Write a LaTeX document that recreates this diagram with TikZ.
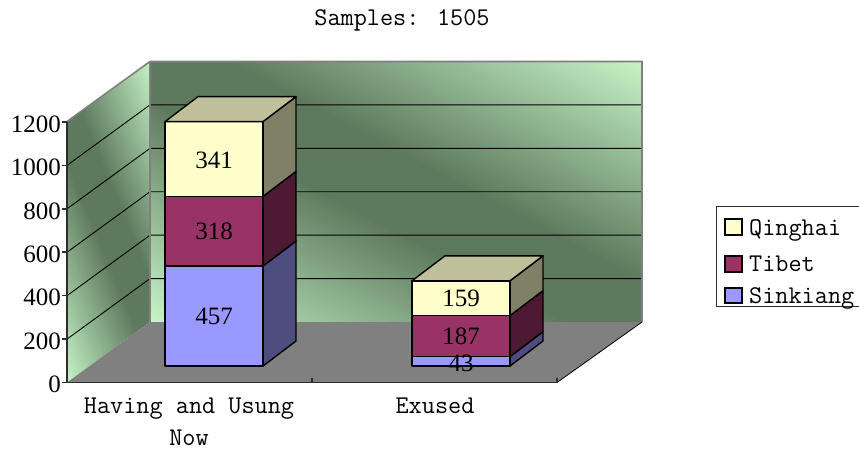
\documentclass[tikz,border=0pt]{standalone}
\usepackage{fontspec}
\setmainfont{Liberation Serif}
\definecolor{wallLight}{RGB}{200,246,200}
\definecolor{wallDark}{RGB}{94,122,94}
\definecolor{floorGray}{RGB}{128,128,128}
\definecolor{edgeGray}{RGB}{128,128,128}
\definecolor{axisDark}{RGB}{45,45,45}
\definecolor{qFront}{RGB}{255,255,204}
\definecolor{qSide}{RGB}{128,128,102}
\definecolor{qTop}{RGB}{191,191,153}
\definecolor{tFront}{RGB}{153,51,102}
\definecolor{tSide}{RGB}{77,25,51}
\definecolor{sFront}{RGB}{153,153,255}
\definecolor{sSide}{RGB}{77,77,128}

% one segment of a stacked 3-D column: x0, x1, y bottom, y top, front colour, side colour
\newcommand\stackpart[6]{%
  \filldraw[barline,fill=#6] (#2,#3) -- ++(33,-25) -- ++(0,{#4-#3}) -- (#2,#4) -- cycle;
  \filldraw[barline,fill=#5] (#1,#3) rectangle (#2,#4);
}
% lid of a column: x0, x1, y top
\newcommand\stacklid[3]{%
  \filldraw[barline,fill=qTop] (#1,#3) -- ++(33,-25) -- ++({#2-#1},0) -- (#2,#3) -- cycle;
}
% banded green fill: centre x, centre y, band angle, half width, strip step
\newcommand\greenbands[5]{%
  \pgfmathtruncatemacro\nstrips{2*#4/#5}
  \begin{scope}[shift={(#1,#2)},rotate=#3]
    \foreach \k in {0,...,\nstrips}{
      \pgfmathsetmacro\tpos{-#4+\k*#5}
      \pgfmathsetmacro\mixp{100*min(1,max(0,1.18*(1-abs(\tpos)/#4)))}
      \fill[wallDark!\mixp!wallLight] (-450,{\tpos-#5/2-0.4}) rectangle (450,{\tpos+#5/2+0.4});
    }
  \end{scope}%
}

\begin{document}
\begin{tikzpicture}[x=1pt,y=-1pt,
  num/.style={font=\fontsize{25}{25}\selectfont,inner sep=0pt},
  mono/.style={font=\ttfamily\fontsize{25.5}{33}\selectfont,inner sep=0pt},
  barline/.style={draw=black,line width=1.4pt,line join=round},
  grid/.style={draw=black,line width=0.9pt},
  wallrim/.style={draw=edgeGray,line width=1.6pt},
  axisline/.style={draw=axisDark,line width=1.6pt},
  keybox/.style={draw=black,line width=1.4pt}]
\useasboundingbox (0,0) rectangle (859,451);

% back wall
\begin{scope}
  \clip (150,61.5) rectangle (642,322);
  \greenbands{396}{191.75}{-27.9}{232}{4}
\end{scope}
% side wall
\begin{scope}
  \clip (67,382.5) -- (67,121.5) -- (150,61.5) -- (150,322) -- cycle;
  \greenbands{108.5}{221.9}{-67.5}{102}{3}
\end{scope}

% gridlines every 200
\foreach \v in {200,400,...,1000}{
  \draw[grid] (67,{382.5-\v*0.2171}) -- (150,{322-\v*0.2171}) -- (642,{322-\v*0.2171});
}
% wall rims
\draw[wallrim] (67,121.5) -- (150,61.5) -- (642,61.5) -- (642,322);
\draw[wallrim] (150,61.5) -- (150,322);

% floor
\fill[floorGray] (67,382.5) -- (150,322) -- (642,322) -- (557,382.5) -- cycle;
\draw[black,line width=0.8pt] (557,382.5) -- (642,322);

% axes
\draw[axisline] (67,121.5) -- (67,382.5) -- (557,382.5);
\foreach \v in {0,200,...,1200}{
  \draw[axisline] (62,{382.5-\v*0.2171}) -- (67,{382.5-\v*0.2171});
}
\draw[axisline] (312,377.5) -- (312,382.5);
\draw[axisline] (557,377.5) -- (557,382.5);

\node[num,anchor=east] (t0) at (61,384.5) {0};
\node[num,anchor=east] (t200) at (61,341) {200};
\node[num,anchor=east] (t400) at (61,297.5) {400};
\node[num,anchor=east] (t600) at (61,254.5) {600};
\node[num,anchor=east] (t800) at (61,211) {800};
\node[num,anchor=east] (t1000) at (61,167.5) {1000};
\node[num,anchor=east] (t1200) at (61,124) {1200};

% column: Having and Usung Now
\stackpart{165}{263}{366}{266}{sFront}{sSide}
\stackpart{165}{263}{266}{196.4}{tFront}{tSide}
\stackpart{165}{263}{196.4}{121.6}{qFront}{qSide}
\stacklid{165}{263}{121.6}

% column: Exused
\stackpart{412}{510}{366}{356.6}{sFront}{sSide}
\stackpart{412}{510}{356.6}{315.6}{tFront}{tSide}
\stackpart{412}{510}{315.6}{280.8}{qFront}{qSide}
\stacklid{412}{510}{280.8}

% value labels
\node[num] (a457) at (214,316) {457};
\node[num] (a318) at (214,231.5) {318};
\node[num] (a341) at (214,160) {341};
\node[num] (b43) at (461,363) {43};
\node[num] (b187) at (461,336) {187};
\node[num] (b159) at (461,298.5) {159};

% texts
\node[mono,anchor=base] (title) at (402,25) {Samples: 1505};
\node[mono,anchor=base] (cat1) at (189,413) {Having and Usung};
\node[mono,anchor=base] (cat1b) at (189,445) {Now};
\node[mono,anchor=base] (cat2) at (435,413) {Exused};

% legend
\draw[draw=axisDark,line width=1pt] (860,206) -- (716.5,206) -- (716.5,306) -- (860,306);
\filldraw[keybox,fill=qFront] (725,219) rectangle (742,235);
\filldraw[keybox,fill=tFront] (725,256) rectangle (742,272);
\filldraw[keybox,fill=sFront] (725,288) rectangle (742,303);
\node[mono,anchor=base west] (kq) at (749,235) {Qinghai};
\node[mono,anchor=base west] (kt) at (749,271.5) {Tibet};
\node[mono,anchor=base west] (ks) at (749,303) {Sinkiang};
\end{tikzpicture}
\end{document}
